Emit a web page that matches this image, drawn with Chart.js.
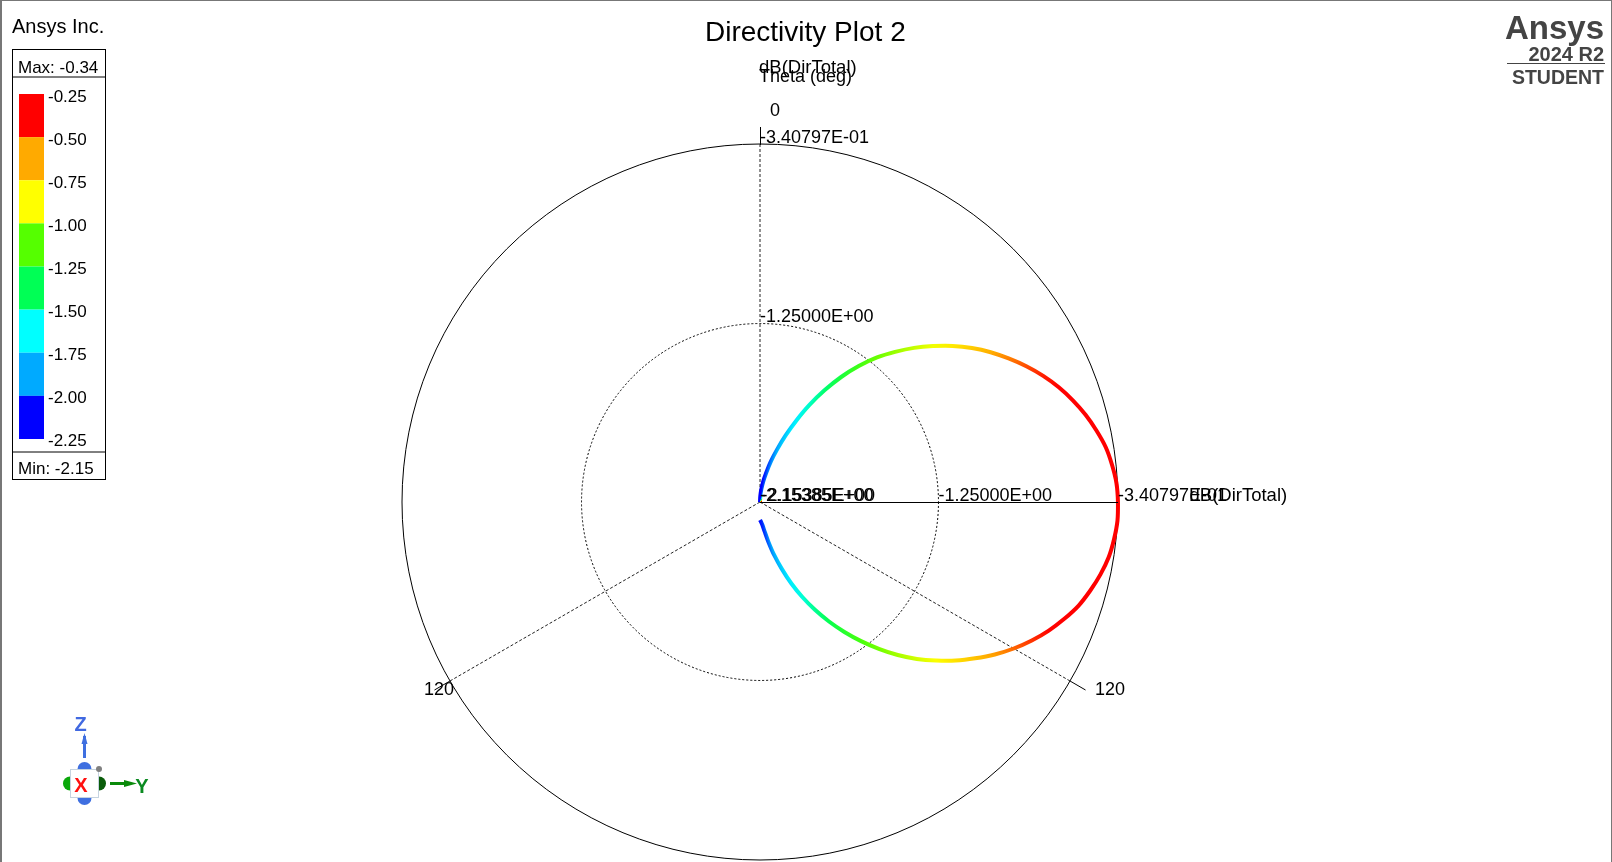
<!DOCTYPE html>
<html><head><meta charset="utf-8"><title>Directivity Plot 2</title>
<style>html,body{margin:0;padding:0;background:#fff}canvas{display:block}</style>
<script src="https://cdn.jsdelivr.net/npm/chart.js@4"></script>
</head><body><canvas id="c" width="1612" height="862"></canvas>
<script>
const chartTitle = "Directivity Plot 2";
// Theta categories (deg, clockwise from +Z)
const thetaLabels = [0,3,6,9,12,15,18,21,24,27,30,33,36,39,42,45,48,51,54,57,60,63,66,69,72,75,78,81,84,87,90,93,96,99,102,105,108,111,114,117,120,123,126,129,132,135,138,141,144,147,150,153,156,159,162,165,168,171,174,177,180,183,186,189,192,195,198,201,204,207,210,213,216,219,222,225,228,231,234,237,240,243,246,249,252,255,258,261,264,267,270,273,276,279,282,285,288,291,294,297,300,303,306,309,312,315,318,321,324,327,330,333,336,339,342,345,348,351,354,357];
const spokeThetas = [0,120,240];
// dB(DirTotal), theta = 0..180
const dirTotal = [-2.154,-2.123,-2.088,-2.048,-2.002,-1.941,-1.875,-1.794,-1.703,-1.602,-1.501,-1.399,-1.303,-1.212,-1.131,-1.050,-0.974,-0.898,-0.827,-0.761,-0.700,-0.640,-0.584,-0.533,-0.488,-0.447,-0.412,-0.381,-0.361,-0.346,-0.341,-0.341,-0.351,-0.366,-0.391,-0.422,-0.457,-0.503,-0.553,-0.609,-0.670,-0.736,-0.807,-0.878,-0.954,-1.030,-1.111,-1.197,-1.283,-1.369,-1.455,-1.541,-1.627,-1.713,-1.799,-1.875,-1.946,-2.002,-2.037,-2.053,-2.063];
const rTicks = [-2.15385,-1.25,-0.340797];
const rTickLabels = ["-2.15385E+00","-1.25000E+00","-3.40797E-01"];
const legendLevels = ["-0.25","-0.50","-0.75","-1.00","-1.25","-1.50","-1.75","-2.00","-2.25"];
const legendColors = ["#ff0000","#ffaa00","#ffff00","#55ff00","#00ff55","#00ffff","#00aaff","#0000ff"];
// dB value at which the curve's shading shows each legend colour
const shadingStops = [-0.55,-0.75,-0.95,-1.25,-1.47,-1.67,-1.88,-2.08];
const legendMax = "Max: -0.34";
const legendMin = "Min: -2.15";

const FONT = '"Liberation Sans", Arial, sans-serif';
function hexRgb(h){return [1,3,5].map(i=>parseInt(h.substr(i,2),16));}
function colorAt(v){
  const n = shadingStops.length;
  if(v >= shadingStops[0]) return legendColors[0];
  if(v <= shadingStops[n-1]) return legendColors[n-1];
  let i = 0;
  while(v < shadingStops[i+1]) i++;
  const f = (shadingStops[i] - v) / (shadingStops[i] - shadingStops[i+1]);
  const a = hexRgb(legendColors[i]), b = hexRgb(legendColors[i+1]);
  return 'rgb(' + a.map((x,k)=>Math.round(x + (b[k]-x)*f)).join(',') + ')';
}
function curveColor(ctx){
  const chart = ctx.chart, s = chart.scales && chart.scales.r;
  if(!s || !s.drawingArea) return legendColors[0];
  const g = chart.ctx.createConicGradient(-Math.PI/2, s.xCenter, s.yCenter);
  const full = thetaLabels[1] * thetaLabels.length;
  dirTotal.forEach((v,i)=> g.addColorStop(thetaLabels[i]/full, colorAt(v)));
  g.addColorStop(1, colorAt(dirTotal[0]));
  return g;
}
function txt(c, s, x, y, font, color, align){
  c.font = font + ' ' + FONT; c.fillStyle = color || '#000';
  c.textAlign = align || 'left'; c.textBaseline = 'alphabetic';
  c.fillText(s, x, y);
}
function line(c, x1,y1,x2,y2,color,w){
  c.strokeStyle=color; c.lineWidth=w||1; c.setLineDash([]);
  c.beginPath(); c.moveTo(x1,y1); c.lineTo(x2,y2); c.stroke();
}
function ball(c,x,y,r,col){ c.fillStyle=col; c.beginPath(); c.arc(x,y,r,0,Math.PI*2); c.fill(); }

const annotate = {
  id:'annotate',
  afterDraw(chart){
    const c = chart.ctx, s = chart.scales.r;
    c.save();
    // window frame
    c.fillStyle='#777';
    c.fillRect(0,0,1612,1); c.fillRect(0,0,2,862); c.fillRect(1611,0,1,862);

    // header
    txt(c,"Ansys Inc.",12,33,'20px');
    txt(c,chartTitle,705,41,'28px');
    txt(c,"dB(DirTotal)",759,73,'18.5px');
    txt(c,"Theta (deg)",759,82,'18px');

    // radial ticks along the two dB axes
    const top = s.getPointPositionForValue(0, rTicks[2]);
    const right = s.getPointPositionForValue(30, rTicks[2]);
    const centre = s.getPointPositionForValue(0, rTicks[0]);
    line(c, top.x+0.5, top.y-17, top.x+0.5, top.y+1, '#000', 1);
    line(c, centre.x, right.y+0.5, right.x, right.y+0.5, '#000', 1);
    rTicks.forEach((v,i)=>{
      const pv = s.getPointPositionForValue(0, v), ph = s.getPointPositionForValue(30, v);
      if(i>0) txt(c, rTickLabels[i], pv.x, pv.y-(i===2?1:2), '18px');
      txt(c, rTickLabels[i], ph.x, ph.y-1, '18px');
      if(i===0) txt(c, rTickLabels[i], ph.x+1.5, ph.y-1, '18px');
    });
    txt(c,"dB(DirTotal)",1189.5,501,'18.5px');

    // theta labels and ticks
    txt(c,"0",770,116,'18px');
    const a = s.getPointPositionForValue(40, rTicks[2]);
    const b = s.getPointPositionForValue(80, rTicks[2]);
    line(c,a.x,a.y,a.x+15.5,a.y+9,'#000',1);
    line(c,b.x,b.y,b.x-15.5,b.y+9,'#000',1);
    txt(c,"120",1095,695,'18px');
    txt(c,"120",424,695,'18px');

    // legend
    c.strokeStyle='#000'; c.lineWidth=1; c.setLineDash([]);
    c.strokeRect(12.5,49.5,93,430);
    line(c,12.5,77,105.5,77,'#000',1);
    line(c,12.5,452,105.5,452,'#000',1);
    txt(c,legendMax,18,73,'17px');
    txt(c,legendMin,18,474,'17px');
    legendColors.forEach((col,i)=>{ c.fillStyle=col; c.fillRect(19,94+i*43.125,25,43.125); });
    legendLevels.forEach((l,i)=>{ txt(c,l,48,102+i*43,'17px'); });

    // brand
    txt(c,"Ansys",1604,39,'bold 33px','#444','right');
    txt(c,"2024 R2",1604,60.5,'bold 20px','#444','right');
    line(c,1507,63.5,1605,63.5,'#444',1);
    txt(c,"STUDENT",1604,84,'bold 19.5px','#444','right');

    // triad
    ball(c,84.5,769,7,'#3f6fe0');
    ball(c,84.5,798,7,'#3f6fe0');
    ball(c,70,783.5,7,'#0aa80a');
    ball(c,99,783.5,7,'#0a5c0a');
    c.fillStyle='#fff'; c.fillRect(70,769,29,29);
    c.strokeStyle='#c5d3e0'; c.lineWidth=1; c.strokeRect(70.5,769.5,28,28);
    ball(c,99,769,3,'#808080');
    txt(c,"X",81,792,'bold 20px','#ff1010','center');
    line(c,84.5,758,84.5,736,'#3f6fe0',3);
    c.fillStyle='#3f6fe0'; c.beginPath(); c.moveTo(84.5,733); c.lineTo(81.5,744); c.lineTo(87.5,744); c.fill();
    txt(c,"Z",80.5,731,'bold 20px','#4169e1','center');
    line(c,110,783.5,126,783.5,'#0a8a0a',3);
    c.fillStyle='#0a8a0a'; c.beginPath(); c.moveTo(137,783.5); c.lineTo(124,780); c.lineTo(124,787); c.fill();
    txt(c,"Y",142,793,'bold 20px','#0a8a20','center');
    c.restore();
  }
};

new Chart(document.getElementById('c').getContext('2d'), {
  type:'radar',
  data:{ labels: thetaLabels, datasets:[{
    data: dirTotal, borderWidth:4, borderColor: curveColor, fill:false, tension:0.3,
    pointRadius:0, pointHoverRadius:0, borderCapStyle:'butt', borderJoinStyle:'round'
  }]},
  options:{
    responsive:false, animation:false, devicePixelRatio:1,
    layout:{ padding:{ left:402, right:494, top:144, bottom:2 } },
    plugins:{ legend:{display:false}, tooltip:{enabled:false}, title:{display:false} },
    scales:{ r:{
      min: rTicks[0], max: rTicks[2],
      afterBuildTicks(scale){ scale.ticks = rTicks.map(value=>({value})); },
      ticks:{ display:false },
      pointLabels:{ display:false },
      grid:{ circular:true, color:'#000', lineWidth:1 },
      border:{ dash:(ctx)=> ctx.index===1 ? [2,2] : [] },
      angleLines:{
        display:true, lineWidth:1, borderDash:[3,2],
        color:(ctx)=> spokeThetas.includes(thetaLabels[ctx.index]) ? '#222' : 'rgba(0,0,0,0)'
      }
    }}
  },
  plugins:[annotate]
});
</script></body></html>
